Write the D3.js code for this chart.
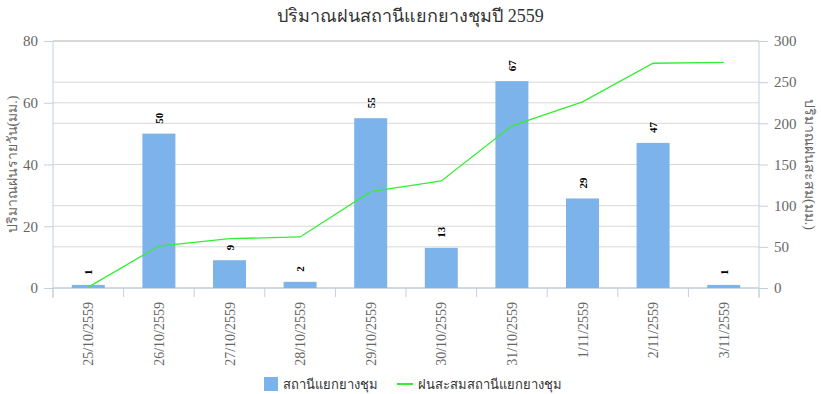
<!DOCTYPE html>
<html>
<head>
<meta charset="utf-8">
<script src="https://cdn.jsdelivr.net/npm/d3@7"></script>
<style>
  body { margin: 0; background: #fff; }
  svg { font-family: "Liberation Serif", "Times New Roman", serif; }
</style>
</head>
<body>
<div id="chart"></div>
<script>
// ข้อมูลฝนรายวัน / ฝนสะสม
const categories = ['25/10/2559', '26/10/2559', '27/10/2559', '28/10/2559', '29/10/2559',
                    '30/10/2559', '31/10/2559', '1/11/2559', '2/11/2559', '3/11/2559'];
const dailyRain = [1, 50, 9, 2, 55, 13, 67, 29, 47, 1];
const cumulativeRain = [1, 51, 60, 62, 117, 130, 197, 226, 273, 274];
const leftTicks = [0, 20, 40, 60, 80];
const rightTicks = [0, 50, 100, 150, 200, 250, 300];

const width = 821, height = 394;
const margin = { top: 41, right: 62, bottom: 106, left: 53 };
const plotW = width - margin.left - margin.right;
const plotH = height - margin.top - margin.bottom;
const serif = '"Liberation Serif", "Times New Roman", serif';

const svg = d3.select('#chart').append('svg')
    .attr('width', width)
    .attr('height', height);

const g = svg.append('g').attr('transform', `translate(${margin.left},${margin.top})`);

const x = d3.scaleBand().domain(categories).range([0, plotW]).paddingInner(0).paddingOuter(0);
const yL = d3.scaleLinear().domain([0, 80]).range([plotH, 0]);
const yR = d3.scaleLinear().domain([0, 300]).range([plotH, 0]);

// grid lines (both axes)
g.append('g').selectAll('line.gl')
    .data(leftTicks)
    .join('line')
    .attr('x1', 0).attr('x2', plotW)
    .attr('y1', d => yL(d)).attr('y2', d => yL(d))
    .attr('stroke', '#d8d8d8').attr('stroke-width', 1);
g.append('g').selectAll('line.gr')
    .data(rightTicks)
    .join('line')
    .attr('x1', 0).attr('x2', plotW)
    .attr('y1', d => yR(d)).attr('y2', d => yR(d))
    .attr('stroke', '#d8d8d8').attr('stroke-width', 1);
g.append('line')
    .attr('x1', 0).attr('x2', plotW)
    .attr('y1', 0).attr('y2', 0)
    .attr('stroke', '#d8d8d8').attr('stroke-width', 2);

// left axis
const leftAxis = g.append('g')
    .call(d3.axisLeft(yL).tickValues(leftTicks).tickSize(9).tickPadding(6))
    .attr('font-family', serif);
leftAxis.select('.domain').attr('stroke', '#c0d0e0').attr('d', `M0,0V${plotH + 10}`);
leftAxis.selectAll('.tick line').attr('stroke', '#c0d0e0');
leftAxis.selectAll('.tick text').attr('fill', '#666').style('font-size', '15px');

// right axis
const rightAxis = g.append('g')
    .attr('transform', `translate(${plotW},0)`)
    .call(d3.axisRight(yR).tickValues(rightTicks).tickSize(9).tickPadding(6))
    .attr('font-family', serif);
rightAxis.select('.domain').attr('stroke', '#c0d0e0').attr('d', `M0,0V${plotH + 10}`);
rightAxis.selectAll('.tick line').attr('stroke', '#c0d0e0');
rightAxis.selectAll('.tick text').attr('fill', '#666').style('font-size', '15px');

// x axis
const xAxis = g.append('g').attr('transform', `translate(0,${plotH})`);
xAxis.append('line')
    .attr('x1', 0).attr('x2', plotW)
    .attr('stroke', '#c0d0e0');
xAxis.selectAll('line.tick')
    .data(categories.concat(['end']))
    .join('line')
    .attr('class', 'tick')
    .attr('x1', (d, i) => i * x.bandwidth()).attr('x2', (d, i) => i * x.bandwidth())
    .attr('y1', 0).attr('y2', 9)
    .attr('stroke', '#c0d0e0');
xAxis.selectAll('text')
    .data(categories)
    .join('text')
    .attr('transform', d => `translate(${x(d) + x.bandwidth() / 2 + 5},14) rotate(-90)`)
    .attr('text-anchor', 'end')
    .attr('fill', '#666')
    .style('font-size', '14px')
    .text(d => d);

// bars
const barW = 33;
g.selectAll('rect.bar')
    .data(dailyRain)
    .join('rect')
    .attr('class', 'bar')
    .attr('x', (d, i) => x(categories[i]) + (x.bandwidth() - barW) / 2)
    .attr('y', d => yL(d))
    .attr('width', barW)
    .attr('height', d => plotH - yL(d))
    .attr('fill', '#7cb3ea');

// bar labels
g.selectAll('text.lbl')
    .data(dailyRain)
    .join('text')
    .attr('class', 'lbl')
    .attr('transform', (d, i) => `translate(${x(categories[i]) + x.bandwidth() / 2 + 4},${yL(d) - 10}) rotate(-90)`)
    .attr('text-anchor', 'start')
    .attr('fill', '#000')
    .style('font-size', '11px')
    .style('font-weight', 'bold')
    .text(d => d);

// cumulative line
const line = d3.line()
    .x((d, i) => x(categories[i]) + x.bandwidth() / 2)
    .y(d => yR(d));
g.append('path')
    .datum(cumulativeRain)
    .attr('d', line)
    .attr('fill', 'none')
    .attr('stroke', '#33ee33')
    .attr('stroke-width', 1.3);

// title
svg.append('text')
    .attr('x', width / 2).attr('y', 22)
    .attr('text-anchor', 'middle')
    .attr('fill', '#333')
    .style('font-size', '18px')
    .text('ปริมาณฝนสถานีแยกยางชุมปี 2559');

// axis titles
svg.append('text')
    .attr('transform', `translate(17,${margin.top + plotH / 2}) rotate(-90)`)
    .attr('text-anchor', 'middle')
    .attr('fill', '#666')
    .style('font-size', '14px')
    .text('ปริมาณฝนรายวัน(มม.)');
svg.append('text')
    .attr('transform', `translate(805,${margin.top + plotH / 2}) rotate(90)`)
    .attr('text-anchor', 'middle')
    .attr('fill', '#666')
    .style('font-size', '14px')
    .text('ปริมาณฝนสะสม(มม.)');

// legend
const legend = svg.append('g').attr('transform', 'translate(0,384)');
legend.append('rect')
    .attr('x', 264).attr('y', -7).attr('width', 14).attr('height', 14)
    .attr('fill', '#7cb3ea');
legend.append('text')
    .attr('x', 283).attr('y', 5)
    .attr('fill', '#333')
    .style('font-size', '13px')
    .text('สถานีแยกยางชุม');
legend.append('line')
    .attr('x1', 397).attr('x2', 413).attr('y1', 0).attr('y2', 0)
    .attr('stroke', '#33ee33').attr('stroke-width', 2);
legend.append('text')
    .attr('x', 418).attr('y', 5)
    .attr('fill', '#333')
    .style('font-size', '13px')
    .text('ฝนสะสมสถานีแยกยางชุม');
</script>
</body>
</html>
